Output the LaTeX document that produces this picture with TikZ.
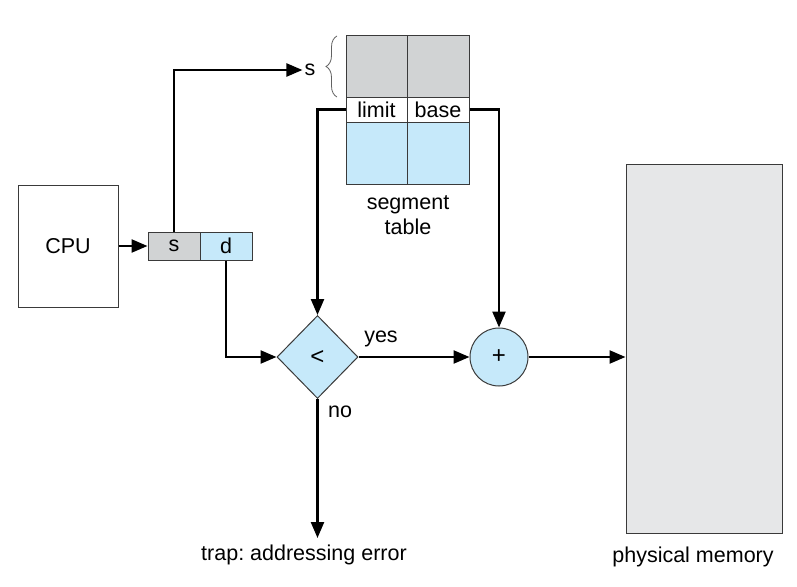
\documentclass[tikz,border=0pt]{standalone}
\usepackage{fontspec}
\setmainfont{Liberation Sans}
\frenchspacing
\usetikzlibrary{arrows.meta,shapes.geometric,decorations.pathreplacing}
\definecolor{cellgray}{HTML}{D1D3D4}
\definecolor{cellblue}{HTML}{C6E9FA}
\definecolor{memgray}{HTML}{E6E7E8}
\definecolor{edge}{HTML}{3A3A3A}
\begin{document}
\begin{tikzpicture}[x=1pt,y=-1pt,
  font=\fontsize{21.5}{25}\selectfont,
  box/.style={draw=edge,line width=1pt,inner sep=0pt,anchor=center},
  conn/.style={line width=2.4pt,black},
  arr/.style={conn,-{Triangle[length=16pt,width=13pt]}},
  lbl/.style={inner sep=0pt}]
\useasboundingbox (0,0) rectangle (797,586);
% memory
\node[box,fill=memgray,minimum width=156,minimum height=369] (mem) at (704,348.5) {};
\node[lbl] (memtext) at (693,557) {physical memory};
% CPU
\node[box,fill=white,minimum width=100,minimum height=122] (cpu) at (68,246) {CPU};
% s d
\node[box,fill=cellgray,minimum width=52,minimum height=28] (scell) at (174,246) {s};
\node[box,fill=cellblue,minimum width=52,minimum height=28] (dcell) at (226,246) {d};
% segment table
\node[box,fill=cellgray,minimum width=61,minimum height=61] (gl) at (376.5,66.5) {};
\node[box,fill=cellgray,minimum width=62,minimum height=61] (gr) at (438,66.5) {};
\node[box,fill=white,minimum width=61,minimum height=25] (limit) at (376.5,109.5) {limit};
\node[box,fill=white,minimum width=62,minimum height=25] (base) at (438,109.5) {base};
\node[box,fill=cellblue,minimum width=61,minimum height=62] (bl) at (376.5,153) {};
\node[box,fill=cellblue,minimum width=62,minimum height=62] (br) at (438,153) {};
\node[lbl,align=center] (segtext) at (408,215) {segment\\[0pt]table};
% s label and brace
\node[inner sep=2pt] (slabel) at (310,70) {s};
\draw[edge!80,line width=0.8pt,decoration={brace,amplitude=11pt},decorate]
  (337,97) -- (337,36);
% diamond and adder
\node[box,diamond,fill=cellblue,minimum width=81,minimum height=83,font=\fontsize{24}{28}\selectfont] (dia) at (317.5,357) {<};
\node[box,circle,fill=cellblue,minimum size=58,font=\fontsize{24}{28}\selectfont] (add) at (499,357) {+};
\coordinate (trap) at (317.5,538);
\node[lbl] (traptext) at (304,555) {trap: addressing error};
\node[lbl] (yes) at (381,339) {yes};
\node[lbl] (no) at (340,412) {no};
% connectors
\draw[arr] (cpu.east) -- (scell.west);
\draw[arr] (scell.north) |- (slabel.west);
\draw[arr] (limit.west) -| (dia.north);
\draw[arr] (base.east) -| (add.north);
\draw[arr] (dcell.south) |- (dia.west);
\draw[arr] (dia.east) -- (add.west);
\draw[arr] (dia.south) -- (trap);
\draw[arr] (add.east) -- (add.east -| mem.west);
\end{tikzpicture}
\end{document}
